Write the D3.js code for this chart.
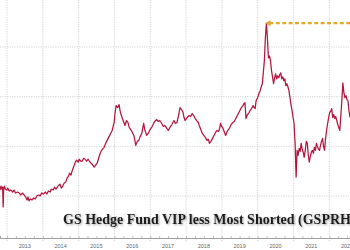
<!DOCTYPE html>
<html><head><meta charset="utf-8">
<script src="https://cdn.jsdelivr.net/npm/d3@7"></script>
<style>html,body{margin:0;padding:0;background:#fff;overflow:hidden}svg{display:block}</style>
</head><body>
<script>
// decimal-year dates and index values
const dates = [
2012.803,2012.830,2012.857,2012.876,2012.892,2012.905,2012.924,2012.951,2012.992,
2013.019,2013.059,2013.100,2013.154,2013.195,2013.235,2013.289,2013.343,2013.384,2013.424,2013.478,2013.519,2013.559,2013.586,2013.614,2013.654,2013.695,2013.749,2013.789,2013.830,2013.884,2013.924,2013.965,
2014.019,2014.073,2014.113,2014.153,2014.207,2014.234,2014.288,2014.328,2014.368,2014.422,2014.476,2014.516,2014.556,2014.597,2014.637,2014.677,2014.718,2014.745,2014.785,2014.825,2014.866,2014.906,2014.946,2014.987,
2015.014,2015.056,2015.098,2015.140,2015.182,2015.223,2015.265,2015.321,2015.377,2015.433,2015.475,2015.517,2015.559,2015.601,2015.642,2015.684,2015.712,2015.754,2015.796,2015.852,2015.894,2015.936,2015.964,2015.992,
2016.019,2016.047,2016.088,2016.129,2016.157,2016.184,2016.212,2016.253,2016.294,2016.335,2016.376,2016.404,2016.431,2016.486,2016.541,2016.569,2016.596,2016.637,2016.679,2016.720,2016.761,2016.788,2016.816,2016.843,2016.898,2016.940,2016.981,
2017.037,2017.079,2017.122,2017.178,2017.221,2017.263,2017.320,2017.363,2017.405,2017.462,2017.504,2017.547,2017.603,2017.660,2017.703,2017.745,2017.788,2017.830,2017.873,2017.915,2017.943,2017.972,
2018.028,2018.085,2018.127,2018.170,2018.212,2018.255,2018.297,2018.340,2018.368,2018.411,2018.453,2018.496,2018.538,2018.581,2018.623,2018.652,2018.694,2018.737,2018.779,2018.822,2018.864,2018.907,2018.935,2018.963,2018.992,
2019.020,2019.063,2019.105,2019.148,2019.190,2019.219,2019.261,2019.304,2019.347,2019.389,2019.432,2019.474,2019.503,2019.545,2019.588,2019.616,2019.645,2019.673,2019.716,2019.759,2019.787,2019.830,2019.872,2019.901,2019.929,2019.957,2019.999,
2020.043,2020.071,2020.100,2020.129,2020.157,2020.186,2020.214,2020.243,2020.271,2020.286,2020.300,2020.329,2020.357,2020.386,2020.414,2020.443,2020.471,2020.500,2020.529,2020.557,2020.586,2020.614,2020.643,2020.671,2020.700,2020.729,2020.757,2020.786,2020.814,2020.843,2020.871,2020.900,2020.929,2020.957,2020.986,
2021.014,2021.028,2021.043,2021.057,2021.071,2021.085,2021.099,2021.128,2021.156,2021.185,2021.213,2021.241,2021.270,2021.298,2021.327,2021.355,2021.384,2021.412,2021.440,2021.469,2021.497,2021.526,2021.554,2021.582,2021.611,2021.639,2021.668,2021.696,2021.724,2021.753,2021.781,2021.810,2021.838,2021.866,2021.895,2021.923,2021.952,2021.980,
2022.009,2022.037,2022.065,2022.094,2022.122,2022.151,2022.179,2022.207,2022.236,2022.264,2022.293,2022.321,2022.349,2022.378,2022.406,2022.435,2022.463,2022.491,2022.520,2022.548,2022.577
];
const values = [
56,60,57,59,39,57,60,57,56,
58,55,56,54,56,53,54,53,51,53,51,49,46,49,45,47,46,48,47,50,51,50,53,
52,54,52,55,54,57,56,59,57,60,62,58,60,63,64,68,70,73,71,76,80,84,86,84,
87,85,85,88,87,85,87,84,82,79,81,83,88,93,96,98,99,103,106,110,113,116,120,124,
134,141,139,142,136,132,129,125,121,126,124,120,118,115,111,106,101,105,106,110,113,118,123,117,111,113,116,
119,122,125,127,125,126,123,120,121,118,116,119,122,126,123,124,131,139,137,134,129,126,
129,131,130,133,131,128,126,124,121,117,113,111,109,106,107,103,105,108,111,114,116,115,118,123,120,
119,115,111,115,117,119,122,124,125,128,131,134,136,139,141,143,144,128,132,134,136,138,141,139,138,146,149,
154,156,160,163,174,186,209,224,209,198,189,191,186,176,170,163,169,173,168,171,169,172,174,168,170,166,168,161,163,160,156,149,142,136,129,
123,113,103,86,69,81,96,91,98,95,103,97,94,89,96,105,103,91,84,90,94,96,93,99,96,103,100,97,96,101,105,108,100,96,108,116,123,129,
134,135,138,129,132,128,130,126,122,119,116,131,146,164,154,149,151,147,146,136,129
];
const yearLabels = ["2013","2014","2015","2016","2017","2018","2019","2020","2021","2022"];
const gridValues = [50,100,150,200];
const titleText = "GS Hedge Fund VIP less Most Shorted (GSPRHVMS Index)";

function toDate(t){
  const y = Math.floor(t);
  const a = new Date(y,0,1).getTime(), b = new Date(y+1,0,1).getTime();
  return new Date(a + (t - y) * (b - a));
}
const data = dates.map((t,i)=>({date:toDate(t), value:values[i]}));

const W = 350, H = 250;
const svg = d3.select("body").append("svg").attr("width",W).attr("height",H);

const x = d3.scaleTime().domain(d3.extent(data,d=>d.date)).range([0,W]);
const y = d3.scaleLinear().domain([50,200]).range([196,47]);
const axisY = 238;

const defs = svg.append("defs");
const f = defs.append("filter").attr("id","sh").attr("x","-5%").attr("y","-30%").attr("width","110%").attr("height","160%");
f.append("feDropShadow").attr("dx",1).attr("dy",1).attr("stdDeviation",1.2).attr("flood-color","#777").attr("flood-opacity",0.7);

// horizontal gridlines
svg.append("g").selectAll("line").data(gridValues).join("line")
  .attr("x1",0).attr("x2",W).attr("y1",d=>y(d)).attr("y2",d=>y(d))
  .attr("stroke","#c8c8c8").attr("stroke-width",0.8).attr("stroke-dasharray","1.2,1.2");

// vertical year gridlines
const yearStarts = yearLabels.map(s=>new Date(+s,0,1));
svg.append("g").selectAll("line").data(yearStarts).join("line")
  .attr("x1",d=>x(d)).attr("x2",d=>x(d)).attr("y1",0).attr("y2",axisY+4)
  .attr("stroke","#c8c8c8").attr("stroke-width",0.8).attr("stroke-dasharray","1.2,1.2");

// axis with quarterly minor ticks
const xAxis = d3.axisBottom(x).ticks(d3.timeMonth.every(3)).tickSize(-2).tickFormat("");
const ax = svg.append("g").attr("transform",`translate(0,${axisY})`).call(xAxis);
ax.select(".domain").attr("stroke","#888").attr("stroke-width",0.8);
ax.selectAll(".tick line").attr("stroke","#999").attr("stroke-width",0.6);

// year labels
svg.append("g").selectAll("text").data(yearLabels).join("text")
  .attr("x",d=>x(new Date(+d,6,1))).attr("y",axisY+10)
  .attr("text-anchor","middle").attr("font-family","Liberation Sans, Arial, sans-serif")
  .attr("font-size",5.5).attr("fill","#666").text(d=>d);

// series line
const line = d3.line().x(d=>x(d.date)).y(d=>y(d.value));
svg.append("path").datum(data).attr("d",line)
  .attr("fill","none").attr("stroke","#b3163d").attr("stroke-width",1.25).attr("stroke-linejoin","round");

// peak reference line
const peak = data.reduce((a,b)=>b.value>a.value?b:a);
const px = x(peak.date), py = y(peak.value);
svg.append("line").attr("x1",px+3).attr("x2",W).attr("y1",py).attr("y2",py)
  .attr("stroke","#ddab34").attr("stroke-width",2.4).attr("stroke-dasharray","4,2.4");
svg.append("path").attr("d",d3.symbol(d3.symbolTriangle,16)())
  .attr("transform",`translate(${px+2.5},${py}) rotate(-90)`).attr("fill","#ddab34");

// title
svg.append("text").attr("x",63).attr("y",224)
  .attr("font-family","Liberation Serif, Times New Roman, serif").attr("font-weight","bold")
  .attr("font-size",14).attr("fill","#1a1a1a").attr("filter","url(#sh)")
  .text(titleText);
</script>
</body></html>
